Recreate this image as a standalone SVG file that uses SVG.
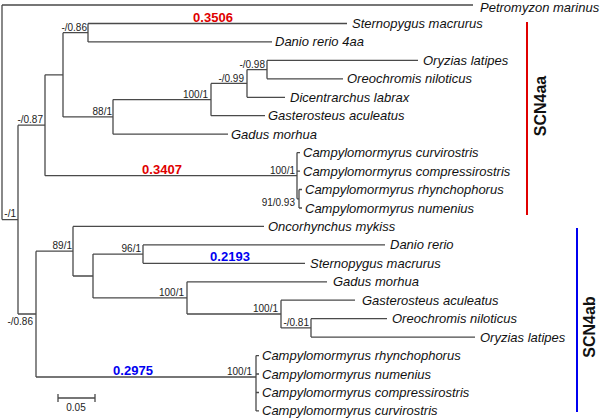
<svg xmlns="http://www.w3.org/2000/svg" width="602" height="418" viewBox="0 0 602 418">
<style>
.br{fill:none;stroke:#4a4a4a;stroke-width:1.3}
.leaf{font-family:"Liberation Sans",Arial,sans-serif;font-style:italic;font-size:13px;fill:#111}
.sup{font-family:"Liberation Sans",Arial,sans-serif;font-size:10px;fill:#222;text-anchor:end}
.bl{font-family:"Liberation Sans",Arial,sans-serif;font-weight:bold;font-size:13px;text-anchor:middle}
.red{fill:#e00000}
.blue{fill:#0000f0}
.grp{font-family:"Liberation Sans",Arial,sans-serif;font-weight:bold;font-size:16px;fill:#111;text-anchor:middle}
</style>
<rect width="602" height="418" fill="#fff"/>
<g id="connectors" class="br">
<path d="M2,5V219.6M2,5H473M2,219.6H18"/>
<path d="M18,125.2V314M18,125.2H45M18,314H36"/>
<path d="M45,74.8V175.7M45,74.8H63M45,175.7H297"/>
<path d="M63,32.7V116.9M63,32.7H88M63,116.9H113"/>
<path d="M88,23.5V41.9M88,23.5H347M88,41.9H272"/>
<path d="M113,99.6V134.2M113,99.6H211M113,134.2H228"/>
<path d="M211,83.4V115.7M211,83.4H247M211,115.7H265"/>
<path d="M247,69.6V97.3M247,69.6H267M247,97.3H285"/>
<path d="M267,60.4V78.8M267,60.4H418M267,78.8H343"/>
<path d="M297,152.6V198.8M297,152.6H300M297,171.1H300M297,198.8H299"/>
<path d="M299,189.5V208M299,189.5H302M299,208H302"/>
<path d="M36,251.2V377M36,251.2H73M36,377H256"/>
<path d="M73,226.4V276M73,226.4H264M73,276H93"/>
<path d="M93,254.1V297.9M93,254.1H143M93,297.9H187"/>
<path d="M143,244.9V263.3M143,244.9H385M143,263.3H305"/>
<path d="M187,281.8V314M187,281.8H327M187,314H281"/>
<path d="M281,300.2V327.9M281,300.2H355M281,327.9H311"/>
<path d="M311,318.7V337.1M311,318.7H387M311,337.1H475"/>
<path d="M256,355.6V410.9M256,355.6H259M256,374H259M256,392.5H259M256,410.9H259"/>
<path d="M58,398H95M58,394V402M95,394V402"/>
</g>
<g id="bars">
<line x1="527" y1="22" x2="527" y2="215" stroke="#e00000" stroke-width="2"/>
<line x1="577" y1="228" x2="577" y2="412" stroke="#0000f0" stroke-width="2"/>
</g>
<g id="leaves">
<g id="leaf-petromyzon"><text class="leaf" x="480" y="12">Petromyzon marinus</text></g>
<g id="leaf-sternopygus-aa"><text class="leaf" x="352" y="28">Sternopygus macrurus</text></g>
<g id="leaf-danio-4aa"><text class="leaf" x="275" y="46.4">Danio rerio 4aa</text></g>
<g id="leaf-oryzias-aa"><text class="leaf" x="423" y="64.9">Oryzias latipes</text></g>
<g id="leaf-oreochromis-aa"><text class="leaf" x="347" y="83.3">Oreochromis niloticus</text></g>
<g id="leaf-dicentrarchus"><text class="leaf" x="290" y="101.8">Dicentrarchus labrax</text></g>
<g id="leaf-gasterosteus-aa"><text class="leaf" x="268" y="120.2">Gasterosteus aculeatus</text></g>
<g id="leaf-gadus-aa"><text class="leaf" x="231" y="138.7">Gadus morhua</text></g>
<g id="leaf-camp-curv-aa"><text class="leaf" x="303" y="157.1">Campylomormyrus curvirostris</text></g>
<g id="leaf-camp-comp-aa"><text class="leaf" x="303" y="175.6">Campylomormyrus compressirostris</text></g>
<g id="leaf-camp-rhyn-aa"><text class="leaf" x="305" y="194">Campylomormyrus rhynchophorus</text></g>
<g id="leaf-camp-num-aa"><text class="leaf" x="305" y="212.5">Campylomormyrus numenius</text></g>
<g id="leaf-oncorhynchus"><text class="leaf" x="268" y="230.9">Oncorhynchus mykiss</text></g>
<g id="leaf-danio-ab"><text class="leaf" x="390" y="249.4">Danio rerio</text></g>
<g id="leaf-sternopygus-ab"><text class="leaf" x="310" y="267.8">Sternopygus macrurus</text></g>
<g id="leaf-gadus-ab"><text class="leaf" x="333" y="286.3">Gadus morhua</text></g>
<g id="leaf-gasterosteus-ab"><text class="leaf" x="362" y="304.7">Gasterosteus aculeatus</text></g>
<g id="leaf-oreochromis-ab"><text class="leaf" x="392" y="323.2">Oreochromis niloticus</text></g>
<g id="leaf-oryzias-ab"><text class="leaf" x="480" y="341.6">Oryzias latipes</text></g>
<g id="leaf-camp-rhyn-ab"><text class="leaf" x="262" y="360.1">Campylomormyrus rhynchophorus</text></g>
<g id="leaf-camp-num-ab"><text class="leaf" x="262" y="378.5">Campylomormyrus numenius</text></g>
<g id="leaf-camp-comp-ab"><text class="leaf" x="262" y="397">Campylomormyrus compressirostris</text></g>
<g id="leaf-camp-curv-ab"><text class="leaf" x="262" y="415.4">Campylomormyrus curvirostris</text></g>
</g>
<g id="support">
<g id="node-E"><text class="sup" x="87" y="31">-/0.86</text></g>
<g id="node-A"><text class="sup" x="265" y="68">-/0.98</text></g>
<g id="node-B"><text class="sup" x="244" y="82">-/0.99</text></g>
<g id="node-C"><text class="sup" x="208" y="98">100/1</text></g>
<g id="node-D"><text class="sup" x="112" y="115">88/1</text></g>
<g id="node-H"><text class="sup" x="43" y="123">-/0.87</text></g>
<g id="node-G"><text class="sup" x="295" y="174">100/1</text></g>
<g id="node-G2"><text class="sup" x="295" y="206">91/0.93</text></g>
<g id="node-R"><text class="sup" x="16" y="217">-/1</text></g>
<g id="node-N"><text class="sup" x="72" y="249">89/1</text></g>
<g id="node-I"><text class="sup" x="141" y="252">96/1</text></g>
<g id="node-L"><text class="sup" x="184" y="296">100/1</text></g>
<g id="node-K"><text class="sup" x="278" y="312">100/1</text></g>
<g id="node-J"><text class="sup" x="309" y="326">-/0.81</text></g>
<g id="node-P"><text class="sup" x="252" y="375">100/1</text></g>
<g id="node-Q"><text class="sup" x="33" y="324.5">-/0.86</text></g>
</g>
<g id="branch-lengths">
<text class="bl red" x="213" y="22">0.3506</text>
<text class="bl red" x="162" y="173.5">0.3407</text>
<text class="bl blue" x="230" y="261">0.2193</text>
<text class="bl blue" x="133" y="375">0.2975</text>
</g>
<g id="groups">
<text class="grp" transform="translate(546,106) rotate(-90)">SCN4aa</text>
<text class="grp" transform="translate(595,327) rotate(-90)">SCN4ab</text>
</g>
<g id="scale"><text class="sup" x="76" y="411" style="text-anchor:middle">0.05</text></g>
</svg>
